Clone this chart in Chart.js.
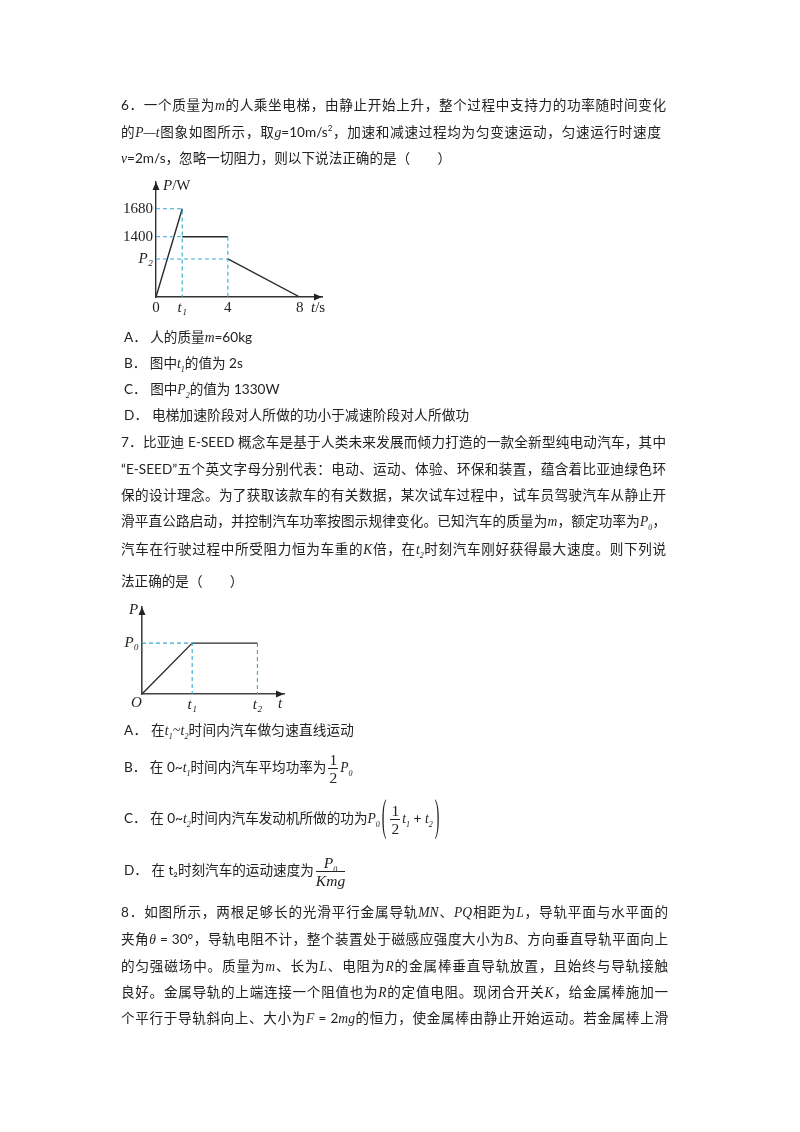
<!DOCTYPE html>
<html lang="zh">
<head>
  <meta charset="UTF-8" />
  <title>P-t 图象</title>
  <script src="https://cdn.jsdelivr.net/npm/chart.js"></script>
  <style>
    html, body { margin: 0; background: #fff; }
    #page {
      position: relative;
      width: 800px;
      height: 1132px;
      overflow: hidden;
      font-family: Lato, 'Noto Sans CJK SC', sans-serif;
      font-size: 13.6px;
      color: #222;
      filter: blur(0.35px);
    }
    .l { position: absolute; line-height: 20px; height: 20px; white-space: nowrap; }
    .j { text-align: justify; text-align-last: justify; }
    .w { letter-spacing: 0.2px; }
    i, .m { font-family: 'Liberation Serif', serif; }
    i { font-style: italic; }
    sub, sup { font-size: 8px; line-height: 0; }
    canvas { position: absolute; }
    .a { position: absolute; font-family: 'Liberation Serif', serif; font-size: 15px; line-height: 16px; color: #222; white-space: nowrap; }
    .frac { display: inline-block; vertical-align: middle; text-align: center; font-family: 'Liberation Serif', serif; line-height: 17px; font-size: 15.5px; margin: 0 2px; }
    .frac b { display: block; font-weight: normal; border-bottom: 1px solid #222; padding: 0 1px; }
    .frac u { display: block; text-decoration: none; }
    .paren { display: inline-block; font-family: 'Liberation Serif', serif; font-size: 14px; transform: scale(1, 3.1); vertical-align: 1px; margin: 0 2px; }
  </style>
</head>
<body>
<div id="page">
  <div class="l j" style="left:121px;top:95px;width:545px">6．一个质量为<i>m</i>的人乘坐电梯，由静止开始上升，整个过程中支持力的功率随时间变化</div>
  <div class="l j" style="left:121px;top:122px;width:540px">的<i>P—t</i>图象如图所示，取<i>g</i>=10m/s<sup>2</sup>，加速和减速过程均为匀变速运动，匀速运行时速度</div>
  <div class="l" style="left:121px;top:148px"><i>v</i>=2m/s，忽略一切阻力，则以下说法正确的是（　　）</div>

  <canvas id="chartElevator" width="230" height="150" style="left:110px;top:170px;width:230px;height:150px"></canvas>
  <span class="a" style="left:163px;top:177px"><i>P</i>/W</span>
  <span class="a" style="left:311px;top:299px"><i>t</i>/s</span>

  <div class="l" style="left:124px;top:327px">A．&nbsp;人的质量<i>m</i>=60kg</div>
  <div class="l" style="left:124px;top:353px">B．&nbsp;图中<i>t<sub>1</sub></i>的值为 2s</div>
  <div class="l" style="left:124px;top:379px">C．&nbsp;图中<i>P<sub>2</sub></i>的值为 1330W</div>
  <div class="l w" style="left:124px;top:405px">D．&nbsp;电梯加速阶段对人所做的功小于减速阶段对人所做功</div>

  <div class="l j" style="left:121px;top:432px;width:545px">7．比亚迪 E-SEED 概念车是基于人类未来发展而倾力打造的一款全新型纯电动汽车，其中</div>
  <div class="l j" style="left:121px;top:459px;width:545px">“E-SEED”五个英文字母分别代表：电动、运动、体验、环保和装置，蕴含着比亚迪绿色环</div>
  <div class="l j" style="left:121px;top:485px;width:545px">保的设计理念。为了获取该款车的有关数据，某次试车过程中，试车员驾驶汽车从静止开</div>
  <div class="l j" style="left:121px;top:511px;width:545px">滑平直公路启动，并控制汽车功率按图示规律变化。已知汽车的质量为<i>m</i>，额定功率为<i>P<sub>0</sub></i>，</div>
  <div class="l j" style="left:121px;top:539px;width:545px">汽车在行驶过程中所受阻力恒为车重的<i>K</i>倍，在<i>t<sub>2</sub></i>时刻汽车刚好获得最大速度。则下列说</div>
  <div class="l" style="left:121px;top:571px">法正确的是（　　）</div>

  <canvas id="chartCar" width="190" height="125" style="left:110px;top:595px;width:190px;height:125px"></canvas>
  <span class="a" style="left:129px;top:601px"><i>P</i></span>
  <span class="a" style="left:131px;top:694px"><i>O</i></span>
  <span class="a" style="left:278px;top:695px"><i>t</i></span>

  <div class="l w" style="left:124px;top:720px">A．&nbsp;在<i>t<sub>1</sub>~t<sub>2</sub></i>时间内汽车做匀速直线运动</div>
  <div class="l" style="left:124px;top:751px">B．&nbsp;在 0~<i>t<sub>1</sub></i>时间内汽车平均功率为<span class="frac"><b>1</b><u>2</u></span><i>P<sub>0</sub></i></div>
  <div class="l" style="left:124px;top:802px">C．&nbsp;在 0~<i>t<sub>2</sub></i>时间内汽车发动机所做的功为<i>P<sub>0</sub></i><span class="paren">(</span><span class="frac"><b>1</b><u>2</u></span><i>t<sub>1</sub></i> + <i>t<sub>2</sub></i><span class="paren">)</span></div>
  <div class="l" style="left:124px;top:854px">D．&nbsp;在 t₂时刻汽车的运动速度为<span class="frac"><b><i>P<sub>0</sub></i></b><u><i>Kmg</i></u></span></div>

  <div class="l j" style="left:121px;top:902px;width:547px">8．如图所示，两根足够长的光滑平行金属导轨<i>MN</i>、<i>PQ</i>相距为<i>L</i>，导轨平面与水平面的</div>
  <div class="l j" style="left:121px;top:929px;width:547px">夹角<i>θ</i> = 30°，导轨电阻不计，整个装置处于磁感应强度大小为<i>B</i>、方向垂直导轨平面向上</div>
  <div class="l j" style="left:121px;top:956px;width:547px">的匀强磁场中。质量为<i>m</i>、长为<i>L</i>、电阻为<i>R</i>的金属棒垂直导轨放置，且始终与导轨接触</div>
  <div class="l j" style="left:121px;top:982px;width:547px">良好。金属导轨的上端连接一个阻值也为<i>R</i>的定值电阻。现闭合开关<i>K</i>，给金属棒施加一</div>
  <div class="l j" style="left:121px;top:1008px;width:547px">个平行于导轨斜向上、大小为<i>F</i> = 2<i>mg</i>的恒力，使金属棒由静止开始运动。若金属棒上滑</div>
</div>

<script>
  // elevator chart: the sketch is not to scale, so heights are as drawn and 1400 sits lower than a true axis would put it
  const elevatorT = [0, 1.46, null, 1.46, 4, null, 4, 8];
  const elevatorHeight = [0, 1680, null, 1148, 1148, null, 725, 0];
  const elevatorGuideT = [0, 1.46, 1.46, null, 0, 1.46, null, 0, 4, null, 4, 4];
  const elevatorGuideHeight = [1680, 1680, 0, null, 1148, 1148, null, 725, 725, null, 1148, 0];
  const elevatorXTicks = [0, 1.46, 4, 8];
  const elevatorXLabels = ['0', 't₁', '4', '8'];
  const elevatorYTicks = [725, 1148, 1680];
  const elevatorYLabels = ['P₂', '1400', '1680'];

  // car chart, P0 and t1 taken as 1
  const carT = [0, 1, 2.3];
  const carP = [0, 1, 1];
  const carGuideT = [0, 1, 1, null, 2.3, 2.3];
  const carGuideP = [1, 1, 0, null, 1, 0];
  const carXTicks = [1, 2.3];
  const carXLabels = ['t₁', 't₂'];
  const carYTicks = [1];
  const carYLabels = ['P₀'];

  const toPoints = (xs, ys) => xs.map((x, i) => ({ x: x, y: ys[i] }));
  const isItalic = label => /[a-zA-Z]/.test(label);

  // arrow heads at the far ends of both axes
  const axisArrows = {
    id: 'axisArrows',
    afterDraw(chart, args, opts) {
      const { ctx, chartArea: a } = chart;
      ctx.save();
      ctx.fillStyle = opts.color;
      ctx.beginPath();
      ctx.moveTo(a.right, a.bottom);
      ctx.lineTo(a.right - 8, a.bottom - 3.5);
      ctx.lineTo(a.right - 8, a.bottom + 3.5);
      ctx.closePath();
      ctx.moveTo(a.left, a.top);
      ctx.lineTo(a.left - 3.5, a.top + 8);
      ctx.lineTo(a.left + 3.5, a.top + 8);
      ctx.closePath();
      ctx.fill();
      ctx.restore();
    }
  };

  function setupSketch(id, cfg) {
    const tickFont = labels => c => {
      const label = labels[c.index] || '';
      return { family: "'Liberation Serif', serif", size: 15, style: isItalic(label) ? 'italic' : 'normal' };
    };
    return new Chart(document.getElementById(id), {
      type: 'scatter',
      data: {
        datasets: [
          {
            data: toPoints(cfg.guideT, cfg.guideP),
            showLine: true, pointRadius: 0,
            borderColor: '#35a9d3', borderWidth: 1.1, borderDash: [4, 3]
          },
          {
            data: toPoints(cfg.t, cfg.p),
            showLine: true, pointRadius: 0,
            borderColor: '#2a2a2a', borderWidth: cfg.lineWidth
          }
        ]
      },
      options: {
        responsive: false,
        animation: false,
        events: [],
        layout: { padding: cfg.padding },
        plugins: { legend: { display: false }, tooltip: { enabled: false }, axisArrows: { color: '#222' } },
        scales: {
          x: {
            type: 'linear', min: 0, max: cfg.xMax,
            grid: { display: false, drawTicks: false },
            border: { color: cfg.axisColor, width: cfg.axisWidth },
            afterFit: s => { s.height = cfg.xHeight; },
            afterBuildTicks: s => { s.ticks = cfg.xTicks.map(v => ({ value: v })); },
            ticks: {
              autoSkip: false, maxRotation: 0, padding: 2, color: '#222',
              font: tickFont(cfg.xLabels),
              callback: (v, i) => cfg.xLabels[i]
            }
          },
          y: {
            type: 'linear', min: 0, max: cfg.yMax,
            grid: { display: false, drawTicks: false },
            border: { color: cfg.axisColor, width: cfg.axisWidth },
            afterFit: s => { s.width = cfg.yWidth; },
            afterBuildTicks: s => { s.ticks = cfg.yTicks.map(v => ({ value: v })); },
            ticks: {
              autoSkip: false, padding: 3, color: '#222',
              font: tickFont(cfg.yLabels),
              callback: (v, i) => cfg.yLabels[i]
            }
          }
        }
      },
      plugins: [axisArrows]
    });
  }

  setupSketch('chartElevator', {
    t: elevatorT, p: elevatorHeight, guideT: elevatorGuideT, guideP: elevatorGuideHeight,
    xTicks: elevatorXTicks, xLabels: elevatorXLabels, yTicks: elevatorYTicks, yLabels: elevatorYLabels,
    xMax: 9.24, yMax: 2191, yWidth: 46, xHeight: 23,
    padding: { top: 10, right: 18, left: 0, bottom: 0 },
    lineWidth: 1.4, axisColor: '#333', axisWidth: 1.4
  });

  setupSketch('chartCar', {
    t: carT, p: carP, guideT: carGuideT, guideP: carGuideP,
    xTicks: carXTicks, xLabels: carXLabels, yTicks: carYTicks, yLabels: carYLabels,
    xMax: 2.83, yMax: 1.71, yWidth: 32, xHeight: 26,
    padding: { top: 8, right: 16, left: 0, bottom: 0 },
    lineWidth: 1.4, axisColor: '#444', axisWidth: 1.6
  });
</script>
</body>
</html>
